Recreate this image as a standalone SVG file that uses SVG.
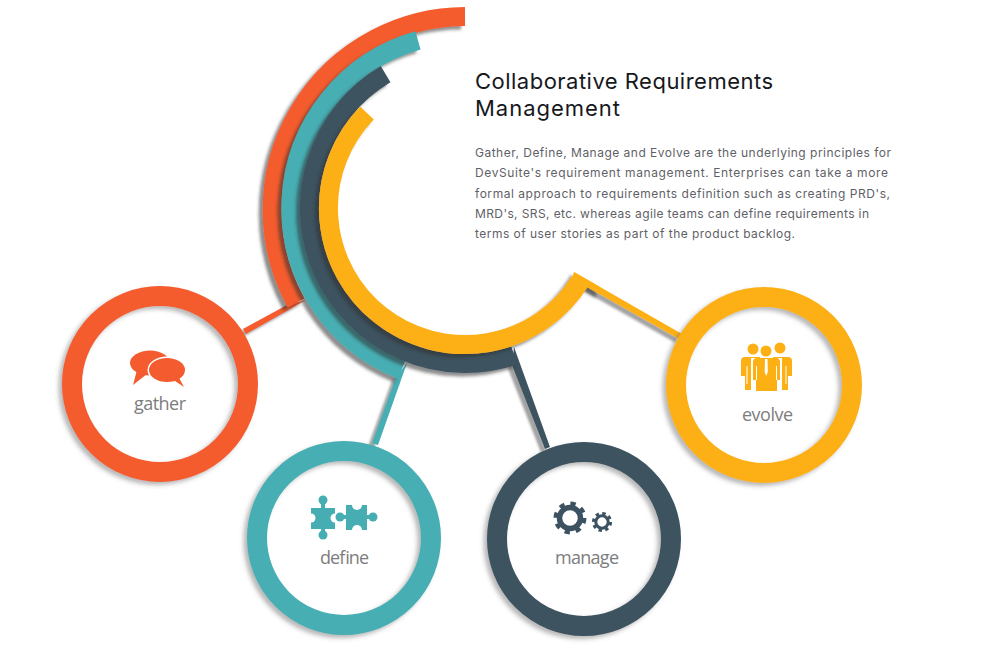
<svg xmlns="http://www.w3.org/2000/svg" width="1000" height="658" viewBox="0 0 1000 658">
<style>
.arc{fill:none;stroke-width:19}
.ring{fill:none;stroke-width:20}
.lab{font-family:"Open Sans","Noto Sans",sans-serif;font-size:18px;fill:#7d7d7d}
.t{font-family:Inter,"Open Sans",sans-serif;font-size:22px;fill:#16181c}
.b{font-family:Inter,"Open Sans",sans-serif;font-size:12px;fill:#5f5f68}
.o{stroke:#f45b2f}.ot{fill:#f45b2f}
.c{stroke:#46aeb3}.ct{fill:#46aeb3}
.n{stroke:#3d5261}.nt{fill:#3d5261}
.y{stroke:#fdb014}.yt{fill:#fdb014}
.w{fill:#fff}
</style>
<defs>
<filter id="sh" x="-15%" y="-15%" width="130%" height="130%">
<feDropShadow dx="-4" dy="3.5" stdDeviation="1.5" flood-color="#333" flood-opacity="0.55"/>
</filter>
<filter id="sr" x="-15%" y="-15%" width="130%" height="130%">
<feDropShadow dx="-3.5" dy="3" stdDeviation="2" flood-color="#555" flood-opacity="0.42"/>
</filter>
<filter id="sc" x="-15%" y="-15%" width="130%" height="130%">
<feDropShadow dx="-4" dy="3.5" stdDeviation="1" flood-color="#444" flood-opacity="0.5"/>
</filter>
</defs>
<rect width="1000" height="658" fill="#fff"/>
<g id="connectors" filter="url(#sc)">
<polygon class="ot" points="287,305 306,300 246,334 243,329"/>
<polygon class="ct" points="407,363 396,377 372,443 378,445"/>
<polygon class="nt" points="514,347 512,365 545,449 550,447"/>
<polygon class="yt" points="574,272 587,287 679,339 682,334"/>
</g>
<g id="arcs">
<path class="arc o" filter="url(#sh)" d="M465 16.5A193.5 193.5 0 0 0 296 303"/>
<path class="arc c" filter="url(#sh)" d="M418 40.4A174 174 0 0 0 401.5 370"/>
<path class="arc n" filter="url(#sh)" d="M385.6 74.2A155.5 155.5 0 0 0 514.3 355.4"/>
<g filter="url(#sh)">
<path class="arc y" d="M367 113A136.5 136.5 0 1 0 580.4 280.9"/>
<polygon class="yt" points="574,272 600,287 600,294.4 587,287 578,283 572,278"/>
</g>
</g>
<g id="gather">
<circle class="ring o" filter="url(#sr)" cx="160" cy="384" r="88"/>
<g class="ot">
<ellipse cx="150" cy="363" rx="20" ry="12.5"/>
<polygon points="137,370 133,385 147,374"/>
<ellipse class="w" cx="167" cy="370" rx="19.5" ry="13.5"/>
<ellipse cx="167" cy="370" rx="18" ry="12"/>
<polygon points="172,379 184,387 178,376"/>
</g>
<text class="lab" x="134" y="410" textLength="52">gather</text>
</g>
<g id="define">
<circle class="ring c" filter="url(#sr)" cx="344" cy="538" r="87"/>
<g class="ct">
<rect x="311" y="508" width="24" height="21"/>
<circle cx="323" cy="500" r="4.5"/><rect x="321" y="500" width="4" height="10"/>
<circle cx="323" cy="535" r="4.5"/><rect x="321" y="526" width="4" height="9"/>
<circle class="w" cx="311" cy="518" r="4.5"/>
<circle class="w" cx="335" cy="518" r="4.5"/>
<rect x="346" y="505" width="21" height="25"/>
<circle cx="340" cy="517" r="4.5"/><rect x="340" y="515" width="8" height="4"/>
<circle cx="373" cy="517" r="4.5"/><rect x="365" y="515" width="8" height="4"/>
<circle class="w" cx="357" cy="505" r="5"/>
<circle class="w" cx="357" cy="530" r="5"/>
</g>
<text class="lab" x="320" y="564" textLength="49">define</text>
</g>
<g id="manage">
<circle class="ring n" filter="url(#sr)" cx="584" cy="539" r="87"/>
<circle cx="570" cy="518" r="14.2" fill="none" class="n" stroke-width="4.5" stroke-dasharray="5.2 5.95"/>
<circle cx="570" cy="518" r="10.5" fill="none" class="n" stroke-width="5.5"/>
<circle cx="602" cy="522" r="8.6" fill="none" class="n" stroke-width="3" stroke-dasharray="3.4 3.35"/>
<circle cx="602" cy="522" r="6.2" fill="none" class="n" stroke-width="3"/>
<text class="lab" x="555" y="564" textLength="64">manage</text>
</g>
<g id="evolve">
<circle class="ring y" filter="url(#sr)" cx="764" cy="385" r="88"/>
<g class="yt">
<circle cx="753" cy="349" r="5.5"/>
<circle cx="780" cy="348" r="5.5"/>
<path d="M741 361Q741 357 745 357H760V391H756V376H753V390H745V376H741Z"/>
<path d="M773 357H788Q792 357 792 361V376H788V390H780V376H777V391H773Z"/>
<path class="w" d="M751 358H782V393H751Z"/>
<circle class="w" cx="766" cy="351" r="7"/>
<circle cx="766" cy="351" r="5.5"/>
<path d="M753 362Q753 358 757 358H776Q780 358 780 362V380H777V391H756V380H753Z"/>
<polygon class="w" points="765,359 767.5,359 767.8,372 766.2,376 764.7,372"/>
<rect class="w" x="756" y="366" width="1" height="14"/>
<rect class="w" x="776" y="366" width="1" height="14"/>
<rect class="w" x="746.5" y="366" width="1" height="18"/>
<rect class="w" x="785.5" y="366" width="1" height="18"/>
</g>
<text class="lab" x="742" y="421" textLength="51">evolve</text>
</g>
<g id="description">
<text class="t" x="475" y="89" textLength="298">Collaborative Requirements</text>
<text class="t" x="475" y="116" textLength="145">Management</text>
<text class="b" x="475" y="157" textLength="416">Gather, Define, Manage and Evolve are the underlying principles for</text>
<text class="b" x="475" y="177" textLength="413">DevSuite's requirement management. Enterprises can take a more</text>
<text class="b" x="475" y="198" textLength="415">formal approach to requirements definition such as creating PRD's,</text>
<text class="b" x="475" y="218" textLength="394">MRD's, SRS, etc. whereas agile teams can define requirements in</text>
<text class="b" x="475" y="238" textLength="320">terms of user stories as part of the product backlog.</text>
</g>
</svg>
